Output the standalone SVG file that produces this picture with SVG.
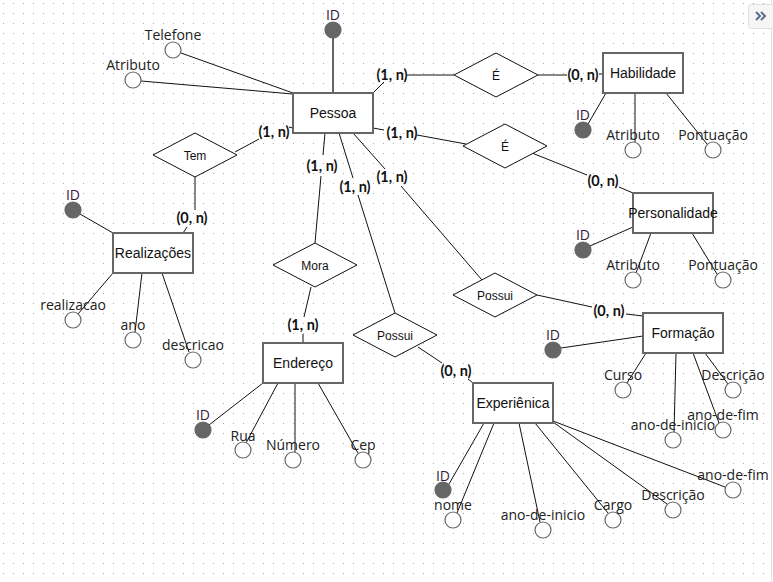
<svg xmlns="http://www.w3.org/2000/svg" width="773" height="582" viewBox="0 0 773 582">
  <style>
    .ent rect { fill: #fff; stroke: #666; stroke-width: 2; }
    .ent text { font-family: "Liberation Sans", Arial, sans-serif; font-size: 14px; fill: #111; text-anchor: middle; }
    .rel polygon { fill: #fff; stroke: #111; stroke-width: 1; }
    .rel text { font-family: "Liberation Sans", Arial, sans-serif; font-size: 12px; fill: #111; text-anchor: middle; }
    .attr circle { fill: #fff; stroke: #666; stroke-width: 1.2; }
    .attr circle.key { fill: #666; stroke: #666; }
    .attr text { font-family: "Open Sans", "Noto Sans", sans-serif; font-size: 14px; fill: #222; text-anchor: middle; }
    .attr text.keylbl { fill: #3a1a3a; }
    .conn line { stroke: #111; stroke-width: 1; }
    .conn line.thick { stroke: #666; stroke-width: 2; }
    .card text { font-family: Lato, "Open Sans", sans-serif; font-size: 14.5px; font-weight: bold; fill: #111; text-anchor: middle; }
  </style>
  <defs>
    <pattern id="grid" x="0" y="0" width="10" height="10" patternUnits="userSpaceOnUse">
      <rect x="3" y="3" width="1" height="1" fill="#a8a8a8"/>
    </pattern>
  </defs>

  <!-- canvas background with dot grid -->
  <rect x="0" y="0" width="773" height="582" fill="#fff"/>
  <rect x="0" y="0" width="771" height="582" fill="url(#grid)"/>
  <line x1="771.5" y1="0" x2="771.5" y2="582" stroke="#e2e2e2" stroke-width="1"/>
  <!-- collapse toggle -->
  <g id="toggle">
    <rect x="748.5" y="4.5" width="26" height="24" rx="3" fill="#f6f6f6" stroke="#dedede"/>
    <polyline points="756,12 760,16 756,20" fill="none" stroke="#5a6f8c" stroke-width="2"/>
    <polyline points="761,12 765,16 761,20" fill="none" stroke="#5a6f8c" stroke-width="2"/>
  </g>

  <!-- connectors -->
  <g id="connectors" class="conn">
    <!-- Pessoa attributes -->
    <line class="thick" x1="333" y1="37" x2="333" y2="93"/>
    <line x1="181" y1="53" x2="293" y2="93"/>
    <line x1="141" y1="81" x2="293" y2="94"/>
    <!-- Pessoa - É - Habilidade -->
    <line x1="373" y1="93" x2="384" y2="82"/>
    <line x1="407" y1="75" x2="454" y2="75"/>
    <line x1="538" y1="75" x2="567" y2="75"/>
    <line x1="599" y1="74" x2="603" y2="74"/>
    <!-- Pessoa - É - Personalidade -->
    <line x1="373" y1="128" x2="384" y2="130"/>
    <line x1="417" y1="135" x2="466" y2="144"/>
    <line x1="532" y1="153" x2="587" y2="175"/>
    <line x1="619" y1="187" x2="633" y2="193"/>
    <!-- Pessoa - Tem - Realizações -->
    <line x1="293" y1="128" x2="289" y2="127"/>
    <line x1="259" y1="139" x2="235" y2="152"/>
    <line x1="195" y1="177" x2="195" y2="210"/>
    <line x1="187" y1="227" x2="183" y2="233"/>
    <!-- Pessoa - Mora - Endereço -->
    <line x1="325" y1="133" x2="323" y2="155"/>
    <line x1="321" y1="176" x2="315" y2="243"/>
    <line x1="311" y1="287" x2="304" y2="317"/>
    <line x1="303" y1="334" x2="303" y2="343"/>
    <!-- Pessoa - Possui - Experiênica -->
    <line x1="339" y1="133" x2="353" y2="178"/>
    <line x1="358" y1="195" x2="395" y2="313"/>
    <line x1="418" y1="347" x2="442" y2="363"/>
    <line x1="468" y1="379" x2="473" y2="383"/>
    <!-- Pessoa - Possui - Formação -->
    <line x1="353" y1="133" x2="385" y2="169"/>
    <line x1="401" y1="186" x2="482" y2="280"/>
    <line x1="537" y1="295" x2="592" y2="307"/>
    <line x1="626" y1="314" x2="643" y2="316"/>
    <!-- Habilidade attributes -->
    <line x1="606" y1="93" x2="588" y2="124"/>
    <line x1="635" y1="93" x2="635" y2="142"/>
    <line x1="666" y1="93" x2="707" y2="144"/>
    <!-- Personalidade attributes -->
    <line x1="633" y1="227" x2="590" y2="246"/>
    <line x1="651" y1="233" x2="636" y2="273"/>
    <line x1="692" y1="233" x2="717" y2="274"/>
    <!-- Realizações attributes -->
    <line x1="113" y1="233" x2="80" y2="214"/>
    <line x1="113" y1="273" x2="78" y2="314"/>
    <line x1="142" y1="273" x2="135" y2="332"/>
    <line x1="162" y1="273" x2="189" y2="352"/>
    <!-- Endereço attributes -->
    <line x1="263" y1="383" x2="209" y2="425"/>
    <line x1="278" y1="383" x2="246" y2="443"/>
    <line x1="295" y1="383" x2="295" y2="452"/>
    <line x1="318" y1="383" x2="358" y2="453"/>
    <!-- Formação attributes -->
    <line x1="643" y1="336" x2="561" y2="348"/>
    <line x1="646" y1="353" x2="627" y2="383"/>
    <line x1="676" y1="353" x2="674" y2="432"/>
    <line x1="693" y1="353" x2="719" y2="423"/>
    <line x1="705" y1="353" x2="728" y2="384"/>
    <!-- Experiênica attributes -->
    <line x1="484" y1="423" x2="449" y2="484"/>
    <line x1="494" y1="423" x2="457" y2="513"/>
    <line x1="519" y1="423" x2="540" y2="522"/>
    <line x1="535" y1="423" x2="608" y2="513"/>
    <line x1="553" y1="422" x2="667" y2="504"/>
    <line x1="553" y1="421" x2="725" y2="487"/>
  </g>

  <!-- cardinalities -->
  <g id="cardinalities" class="card">
    <text x="392" y="80">(1, n)</text>
    <text x="583" y="80">(0, n)</text>
    <text x="402" y="138">(1, n)</text>
    <text x="603" y="186">(0, n)</text>
    <text x="274" y="137">(1, n)</text>
    <text x="192" y="223">(0, n)</text>
    <text x="322" y="171">(1, n)</text>
    <text x="303" y="330">(1, n)</text>
    <text x="355" y="192">(1, n)</text>
    <text x="456" y="376">(0, n)</text>
    <text x="392" y="182">(1, n)</text>
    <text x="609" y="316">(0, n)</text>
  </g>

  <!-- relationships -->
  <g id="rel-e-habilidade" class="rel">
    <polygon points="454,75 496,53 538,75 496,97"/>
    <text x="496" y="80">É</text>
  </g>
  <g id="rel-e-personalidade" class="rel">
    <polygon points="463,146 505,124 547,146 505,168"/>
    <text x="505" y="151">É</text>
  </g>
  <g id="rel-tem" class="rel">
    <polygon points="153,155 195,133 237,155 195,177"/>
    <text x="195" y="160">Tem</text>
  </g>
  <g id="rel-mora" class="rel">
    <polygon points="273,265 315,243 357,265 315,287"/>
    <text x="315" y="270">Mora</text>
  </g>
  <g id="rel-possui-experiencia" class="rel">
    <polygon points="353,335 395,313 437,335 395,357"/>
    <text x="395" y="340">Possui</text>
  </g>
  <g id="rel-possui-formacao" class="rel">
    <polygon points="453,295 495,273 537,295 495,317"/>
    <text x="495" y="300">Possui</text>
  </g>

  <!-- entities -->
  <g id="ent-pessoa" class="ent">
    <rect x="293" y="93" width="80" height="40"/>
    <text x="333" y="118">Pessoa</text>
  </g>
  <g id="ent-habilidade" class="ent">
    <rect x="603" y="53" width="80" height="40"/>
    <text x="643" y="78">Habilidade</text>
  </g>
  <g id="ent-personalidade" class="ent">
    <rect x="633" y="193" width="80" height="40"/>
    <text x="673" y="218">Personalidade</text>
  </g>
  <g id="ent-realizacoes" class="ent">
    <rect x="113" y="233" width="80" height="40"/>
    <text x="153" y="258">Realizações</text>
  </g>
  <g id="ent-endereco" class="ent">
    <rect x="263" y="343" width="80" height="40"/>
    <text x="303" y="368">Endereço</text>
  </g>
  <g id="ent-formacao" class="ent">
    <rect x="643" y="313" width="80" height="40"/>
    <text x="683" y="338">Formação</text>
  </g>
  <g id="ent-experiencia" class="ent">
    <rect x="473" y="383" width="80" height="40"/>
    <text x="513" y="408">Experiênica</text>
  </g>

  <!-- attributes: Pessoa -->
  <g id="attr-pessoa-id" class="attr">
    <circle class="key" cx="333" cy="30" r="8"/>
    <text class="keylbl" x="333" y="20">ID</text>
  </g>
  <g id="attr-pessoa-telefone" class="attr">
    <circle cx="173" cy="50" r="8"/>
    <text x="173" y="40">Telefone</text>
  </g>
  <g id="attr-pessoa-atributo" class="attr">
    <circle cx="133" cy="80" r="8"/>
    <text x="133" y="70">Atributo</text>
  </g>

  <!-- attributes: Habilidade -->
  <g id="attr-habilidade-id" class="attr">
    <circle class="key" cx="583" cy="130" r="8"/>
    <text class="keylbl" x="583" y="120">ID</text>
  </g>
  <g id="attr-habilidade-atributo" class="attr">
    <circle cx="633" cy="150" r="8"/>
    <text x="633" y="140">Atributo</text>
  </g>
  <g id="attr-habilidade-pontuacao" class="attr">
    <circle cx="713" cy="150" r="8"/>
    <text x="713" y="140">Pontuação</text>
  </g>

  <!-- attributes: Personalidade -->
  <g id="attr-personalidade-id" class="attr">
    <circle class="key" cx="583" cy="250" r="8"/>
    <text class="keylbl" x="583" y="240">ID</text>
  </g>
  <g id="attr-personalidade-atributo" class="attr">
    <circle cx="633" cy="280" r="8"/>
    <text x="633" y="270">Atributo</text>
  </g>
  <g id="attr-personalidade-pontuacao" class="attr">
    <circle cx="723" cy="280" r="8"/>
    <text x="723" y="270">Pontuação</text>
  </g>

  <!-- attributes: Realizações -->
  <g id="attr-realizacoes-id" class="attr">
    <circle class="key" cx="73" cy="210" r="8"/>
    <text class="keylbl" x="73" y="200">ID</text>
  </g>
  <g id="attr-realizacoes-realizacao" class="attr">
    <circle cx="73" cy="320" r="8"/>
    <text x="73" y="310">realizacao</text>
  </g>
  <g id="attr-realizacoes-ano" class="attr">
    <circle cx="133" cy="340" r="8"/>
    <text x="133" y="330">ano</text>
  </g>
  <g id="attr-realizacoes-descricao" class="attr">
    <circle cx="193" cy="360" r="8"/>
    <text x="193" y="350">descricao</text>
  </g>

  <!-- attributes: Endereço -->
  <g id="attr-endereco-id" class="attr">
    <circle class="key" cx="203" cy="430" r="8"/>
    <text class="keylbl" x="203" y="420">ID</text>
  </g>
  <g id="attr-endereco-rua" class="attr">
    <circle cx="243" cy="450" r="8"/>
    <text x="243" y="441">Rua</text>
  </g>
  <g id="attr-endereco-numero" class="attr">
    <circle cx="293" cy="460" r="8"/>
    <text x="293" y="450">Número</text>
  </g>
  <g id="attr-endereco-cep" class="attr">
    <circle cx="363" cy="460" r="8"/>
    <text x="363" y="450">Cep</text>
  </g>

  <!-- attributes: Formação -->
  <g id="attr-formacao-id" class="attr">
    <circle class="key" cx="553" cy="350" r="8"/>
    <text class="keylbl" x="553" y="340">ID</text>
  </g>
  <g id="attr-formacao-curso" class="attr">
    <circle cx="623" cy="390" r="8"/>
    <text x="623" y="380">Curso</text>
  </g>
  <g id="attr-formacao-descricao" class="attr">
    <circle cx="733" cy="390" r="8"/>
    <text x="733" y="380">Descrição</text>
  </g>
  <g id="attr-formacao-ano-de-inicio" class="attr">
    <circle cx="673" cy="440" r="8"/>
    <text x="673" y="430">ano-de-inicio</text>
  </g>
  <g id="attr-formacao-ano-de-fim" class="attr">
    <circle cx="723" cy="430" r="8"/>
    <text x="723" y="420">ano-de-fim</text>
  </g>

  <!-- attributes: Experiênica -->
  <g id="attr-experiencia-id" class="attr">
    <circle class="key" cx="443" cy="490" r="8"/>
    <text class="keylbl" x="443" y="481">ID</text>
  </g>
  <g id="attr-experiencia-nome" class="attr">
    <circle cx="453" cy="520" r="8"/>
    <text x="453" y="510">nome</text>
  </g>
  <g id="attr-experiencia-ano-de-inicio" class="attr">
    <circle cx="543" cy="530" r="8"/>
    <text x="543" y="520">ano-de-inicio</text>
  </g>
  <g id="attr-experiencia-cargo" class="attr">
    <circle cx="613" cy="520" r="8"/>
    <text x="613" y="510">Cargo</text>
  </g>
  <g id="attr-experiencia-descricao" class="attr">
    <circle cx="673" cy="510" r="8"/>
    <text x="673" y="500">Descrição</text>
  </g>
  <g id="attr-experiencia-ano-de-fim" class="attr">
    <circle cx="733" cy="490" r="8"/>
    <text x="733" y="480">ano-de-fim</text>
  </g>
</svg>
